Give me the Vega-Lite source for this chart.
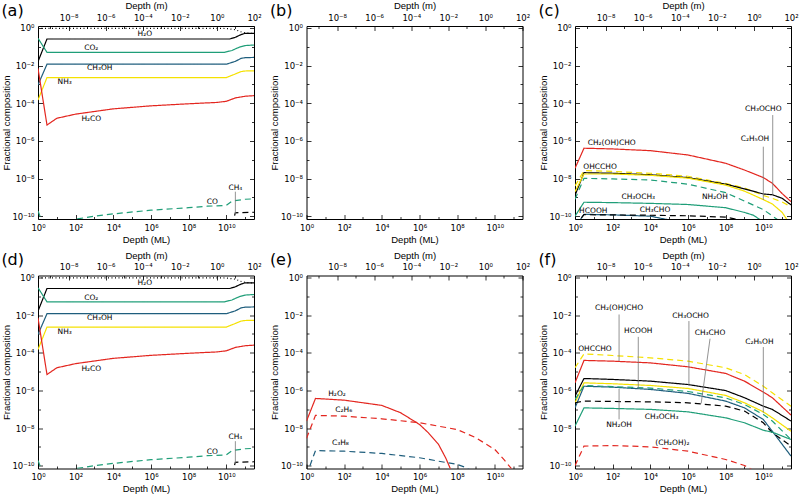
{
"$schema": "https://vega.github.io/schema/vega-lite/v6.json",
"padding": {"left": 1, "top": 0, "right": 2, "bottom": 2},
"background": "white",
"config": {
 "view": {"stroke": null},
 "axis": {"grid": false, "tickSize": {"condition": {"test": "round(log(datum.value)/LN10)%2 != 0", "value": -2.5}, "value": -4.5}, "labelPadding": 8.5, "tickColor": "#000", "domainColor": "#000", "labelColor": "#000", "titleColor": "#000", "labelFont": "DejaVu Sans", "labelFontSize": 8.5, "titleFont": "Liberation Sans", "titleFontSize": 9.5, "titleFontWeight": "normal", "labelFlush": false, "labelOverlap": false, "titlePadding": 0.5, "tickWidth": 0.8, "domainWidth": 1},
 "title": {"anchor": "start", "frame": "bounds", "fontSize": 16, "fontWeight": "normal", "font": "DejaVu Sans", "offset": -18, "color": "#000"}
},
"datasets": {
 "lines": [
  {"p":"a","s":"total","x":1,"y":0.95},{"p":"a","s":"total","x":1e10,"y":0.93},{"p":"a","s":"total","x":3e10,"y":0.8},{"p":"a","s":"total","x":7e10,"y":0.58},{"p":"a","s":"total","x":1.5e11,"y":0.52},{"p":"a","s":"total","x":2.95e11,"y":0.513},
  {"p":"a","s":"H2O","x":1,"y":0.0162},{"p":"a","s":"H2O","x":3,"y":0.257},{"p":"a","s":"H2O","x":1.5e10,"y":0.257},{"p":"a","s":"H2O","x":3e10,"y":0.316},{"p":"a","s":"H2O","x":6e10,"y":0.437},{"p":"a","s":"H2O","x":1e11,"y":0.513},{"p":"a","s":"H2O","x":2.95e11,"y":0.513},
  {"p":"a","s":"CO2","x":1,"y":0.282},{"p":"a","s":"CO2","x":3,"y":0.0501},{"p":"a","s":"CO2","x":8e9,"y":0.0501},{"p":"a","s":"CO2","x":2e10,"y":0.0631},{"p":"a","s":"CO2","x":5e10,"y":0.0955},{"p":"a","s":"CO2","x":1e11,"y":0.115},{"p":"a","s":"CO2","x":2.95e11,"y":0.123},
  {"p":"a","s":"CH3OH","x":1,"y":9.33e-4},{"p":"a","s":"CH3OH","x":3,"y":0.01175},{"p":"a","s":"CH3OH","x":1e10,"y":0.01175},{"p":"a","s":"CH3OH","x":3e10,"y":0.0166},{"p":"a","s":"CH3OH","x":6e10,"y":0.024},{"p":"a","s":"CH3OH","x":1e11,"y":0.0263},{"p":"a","s":"CH3OH","x":2.95e11,"y":0.0269},
  {"p":"a","s":"NH3","x":1,"y":1.48e-4},{"p":"a","s":"NH3","x":3,"y":2.29e-3},{"p":"a","s":"NH3","x":1e10,"y":2.29e-3},{"p":"a","s":"NH3","x":3e10,"y":3.55e-3},{"p":"a","s":"NH3","x":6e10,"y":4.79e-3},{"p":"a","s":"NH3","x":1e11,"y":5.13e-3},{"p":"a","s":"NH3","x":2.95e11,"y":5.25e-3},
  {"p":"a","s":"H2CO","x":1,"y":7.08e-3},{"p":"a","s":"H2CO","x":3,"y":6.92e-6},{"p":"a","s":"H2CO","x":10,"y":1.585e-5},{"p":"a","s":"H2CO","x":100,"y":2.63e-5},{"p":"a","s":"H2CO","x":1000,"y":3.63e-5},{"p":"a","s":"H2CO","x":1e4,"y":5.01e-5},{"p":"a","s":"H2CO","x":1e6,"y":7.24e-5},{"p":"a","s":"H2CO","x":1e8,"y":9.33e-5},{"p":"a","s":"H2CO","x":3e9,"y":1.096e-4},{"p":"a","s":"H2CO","x":1e10,"y":1.26e-4},{"p":"a","s":"H2CO","x":3e10,"y":1.905e-4},{"p":"a","s":"H2CO","x":1e11,"y":2.34e-4},{"p":"a","s":"H2CO","x":2.95e11,"y":2.51e-4},
  {"p":"a","s":"CO","x":1,"y":1.905e-10},{"p":"a","s":"CO","x":3,"y":1e-11},{"p":"a","s":"CO","x":100,"y":6.92e-11},{"p":"a","s":"CO","x":1000,"y":1e-10},{"p":"a","s":"CO","x":1e4,"y":1.32e-10},{"p":"a","s":"CO","x":1e6,"y":2.09e-10},{"p":"a","s":"CO","x":1e8,"y":2.82e-10},{"p":"a","s":"CO","x":1e9,"y":3.39e-10},{"p":"a","s":"CO","x":1e10,"y":3.72e-10},{"p":"a","s":"CO","x":2e10,"y":6.31e-10},{"p":"a","s":"CO","x":1e11,"y":7.94e-10},{"p":"a","s":"CO","x":2.95e11,"y":8.32e-10},
  {"p":"a","s":"CH4","x":1.5e10,"y":1e-11},{"p":"a","s":"CH4","x":3e10,"y":1.51e-10},{"p":"a","s":"CH4","x":2.95e11,"y":1.62e-10},

  {"p":"d","s":"total","x":1,"y":0.95},{"p":"d","s":"total","x":1e10,"y":0.93},{"p":"d","s":"total","x":3e10,"y":0.8},{"p":"d","s":"total","x":7e10,"y":0.58},{"p":"d","s":"total","x":1.5e11,"y":0.52},{"p":"d","s":"total","x":2.95e11,"y":0.513},
  {"p":"d","s":"H2O","x":1,"y":0.0162},{"p":"d","s":"H2O","x":3,"y":0.257},{"p":"d","s":"H2O","x":1.5e10,"y":0.257},{"p":"d","s":"H2O","x":3e10,"y":0.316},{"p":"d","s":"H2O","x":6e10,"y":0.437},{"p":"d","s":"H2O","x":1e11,"y":0.513},{"p":"d","s":"H2O","x":2.95e11,"y":0.513},
  {"p":"d","s":"CO2","x":1,"y":0.282},{"p":"d","s":"CO2","x":3,"y":0.0501},{"p":"d","s":"CO2","x":8e9,"y":0.0501},{"p":"d","s":"CO2","x":2e10,"y":0.0631},{"p":"d","s":"CO2","x":5e10,"y":0.0955},{"p":"d","s":"CO2","x":1e11,"y":0.115},{"p":"d","s":"CO2","x":2.95e11,"y":0.123},
  {"p":"d","s":"CH3OH","x":1,"y":9.33e-4},{"p":"d","s":"CH3OH","x":3,"y":0.01175},{"p":"d","s":"CH3OH","x":1e10,"y":0.01175},{"p":"d","s":"CH3OH","x":3e10,"y":0.0166},{"p":"d","s":"CH3OH","x":6e10,"y":0.024},{"p":"d","s":"CH3OH","x":1e11,"y":0.0263},{"p":"d","s":"CH3OH","x":2.95e11,"y":0.0269},
  {"p":"d","s":"NH3","x":1,"y":1.48e-4},{"p":"d","s":"NH3","x":3,"y":2.29e-3},{"p":"d","s":"NH3","x":1e10,"y":2.29e-3},{"p":"d","s":"NH3","x":3e10,"y":3.55e-3},{"p":"d","s":"NH3","x":6e10,"y":4.79e-3},{"p":"d","s":"NH3","x":1e11,"y":5.13e-3},{"p":"d","s":"NH3","x":2.95e11,"y":5.25e-3},
  {"p":"d","s":"H2CO","x":1,"y":7.08e-3},{"p":"d","s":"H2CO","x":3,"y":6.92e-6},{"p":"d","s":"H2CO","x":10,"y":1.585e-5},{"p":"d","s":"H2CO","x":100,"y":2.63e-5},{"p":"d","s":"H2CO","x":1000,"y":3.63e-5},{"p":"d","s":"H2CO","x":1e4,"y":5.01e-5},{"p":"d","s":"H2CO","x":1e6,"y":7.24e-5},{"p":"d","s":"H2CO","x":1e8,"y":9.33e-5},{"p":"d","s":"H2CO","x":3e9,"y":1.096e-4},{"p":"d","s":"H2CO","x":1e10,"y":1.26e-4},{"p":"d","s":"H2CO","x":3e10,"y":1.905e-4},{"p":"d","s":"H2CO","x":1e11,"y":2.34e-4},{"p":"d","s":"H2CO","x":2.95e11,"y":2.51e-4},
  {"p":"d","s":"CO","x":1,"y":1.905e-10},{"p":"d","s":"CO","x":3,"y":1e-11},{"p":"d","s":"CO","x":100,"y":6.92e-11},{"p":"d","s":"CO","x":1000,"y":1e-10},{"p":"d","s":"CO","x":1e4,"y":1.32e-10},{"p":"d","s":"CO","x":1e6,"y":2.09e-10},{"p":"d","s":"CO","x":1e8,"y":2.82e-10},{"p":"d","s":"CO","x":1e9,"y":3.39e-10},{"p":"d","s":"CO","x":1e10,"y":3.72e-10},{"p":"d","s":"CO","x":2e10,"y":6.31e-10},{"p":"d","s":"CO","x":1e11,"y":7.94e-10},{"p":"d","s":"CO","x":2.95e11,"y":8.32e-10},
  {"p":"d","s":"CH4","x":1.5e10,"y":1e-11},{"p":"d","s":"CH4","x":3e10,"y":1.51e-10},{"p":"d","s":"CH4","x":2.95e11,"y":1.62e-10},

  {"p":"c","s":"CH2(OH)CHO","x":1,"y":3.47e-8},{"p":"c","s":"CH2(OH)CHO","x":3,"y":4.07e-7},{"p":"c","s":"CH2(OH)CHO","x":100,"y":3.72e-7},{"p":"c","s":"CH2(OH)CHO","x":1e4,"y":3.02e-7},{"p":"c","s":"CH2(OH)CHO","x":1e6,"y":1.78e-7},{"p":"c","s":"CH2(OH)CHO","x":1e8,"y":6.46e-8},{"p":"c","s":"CH2(OH)CHO","x":1e9,"y":2.82e-8},{"p":"c","s":"CH2(OH)CHO","x":1e10,"y":1.12e-8},{"p":"c","s":"CH2(OH)CHO","x":3e10,"y":5.62e-9},{"p":"c","s":"CH2(OH)CHO","x":1e11,"y":1.585e-9},{"p":"c","s":"CH2(OH)CHO","x":2.95e11,"y":5.89e-10},
  {"p":"c","s":"OHCCHO","x":1,"y":3.98e-9},{"p":"c","s":"OHCCHO","x":3,"y":2.63e-8},{"p":"c","s":"OHCCHO","x":100,"y":2.4e-8},{"p":"c","s":"OHCCHO","x":1e4,"y":1.905e-8},{"p":"c","s":"OHCCHO","x":1e6,"y":1.32e-8},{"p":"c","s":"OHCCHO","x":1e8,"y":5.5e-9},{"p":"c","s":"OHCCHO","x":1e9,"y":3.16e-9},{"p":"c","s":"OHCCHO","x":1e10,"y":1.26e-9},{"p":"c","s":"OHCCHO","x":3e10,"y":8.91e-10},{"p":"c","s":"OHCCHO","x":1e11,"y":5.62e-10},{"p":"c","s":"OHCCHO","x":2.95e11,"y":3.16e-10},
  {"p":"c","s":"CH3OCHO","x":1,"y":1.26e-9},{"p":"c","s":"CH3OCHO","x":3,"y":2.04e-8},{"p":"c","s":"CH3OCHO","x":100,"y":1.905e-8},{"p":"c","s":"CH3OCHO","x":1e4,"y":1.585e-8},{"p":"c","s":"CH3OCHO","x":1e6,"y":1.12e-8},{"p":"c","s":"CH3OCHO","x":1e8,"y":5.01e-9},{"p":"c","s":"CH3OCHO","x":1e9,"y":2.82e-9},{"p":"c","s":"CH3OCHO","x":1e10,"y":1.51e-9},{"p":"c","s":"CH3OCHO","x":3e10,"y":1.38e-9},{"p":"c","s":"CH3OCHO","x":1e11,"y":8.91e-10},{"p":"c","s":"CH3OCHO","x":2.95e11,"y":3.98e-10},
  {"p":"c","s":"NH2OH","x":1,"y":2.0e-9},{"p":"c","s":"NH2OH","x":3,"y":1.74e-8},{"p":"c","s":"NH2OH","x":100,"y":1.74e-8},{"p":"c","s":"NH2OH","x":1e4,"y":1.48e-8},{"p":"c","s":"NH2OH","x":1e6,"y":1.047e-8},{"p":"c","s":"NH2OH","x":1e8,"y":4.47e-9},{"p":"c","s":"NH2OH","x":1e9,"y":2.14e-9},{"p":"c","s":"NH2OH","x":1e10,"y":7.59e-10},{"p":"c","s":"NH2OH","x":3e10,"y":4.47e-10},{"p":"c","s":"NH2OH","x":1e11,"y":1.585e-10},{"p":"c","s":"NH2OH","x":2.95e11,"y":3.16e-11},
  {"p":"c","s":"C2H5OH","x":1,"y":7.94e-10},{"p":"c","s":"C2H5OH","x":3,"y":1.02e-8},{"p":"c","s":"C2H5OH","x":100,"y":9.55e-9},{"p":"c","s":"C2H5OH","x":1e4,"y":8.32e-9},{"p":"c","s":"C2H5OH","x":1e6,"y":5.01e-9},{"p":"c","s":"C2H5OH","x":1e8,"y":1.78e-9},{"p":"c","s":"C2H5OH","x":1e9,"y":6.31e-10},{"p":"c","s":"C2H5OH","x":1e10,"y":2.24e-10},{"p":"c","s":"C2H5OH","x":6e10,"y":6.31e-11},
  {"p":"c","s":"CH3OCH3","x":1,"y":1e-10},{"p":"c","s":"CH3OCH3","x":3,"y":5.5e-10},{"p":"c","s":"CH3OCH3","x":100,"y":5.25e-10},{"p":"c","s":"CH3OCH3","x":1e4,"y":4.79e-10},{"p":"c","s":"CH3OCH3","x":1e6,"y":4.17e-10},{"p":"c","s":"CH3OCH3","x":1e8,"y":2.82e-10},{"p":"c","s":"CH3OCH3","x":1e9,"y":1.585e-10},{"p":"c","s":"CH3OCH3","x":3e9,"y":1.12e-10},{"p":"c","s":"CH3OCH3","x":1e10,"y":5.01e-11},
  {"p":"c","s":"HCOOH","x":1,"y":2.51e-11},{"p":"c","s":"HCOOH","x":3,"y":1.26e-10},{"p":"c","s":"HCOOH","x":100,"y":1.175e-10},{"p":"c","s":"HCOOH","x":1e4,"y":1e-10},{"p":"c","s":"HCOOH","x":1e5,"y":6.31e-11},
  {"p":"c","s":"CH3CHO","x":1,"y":3.16e-11},{"p":"c","s":"CH3CHO","x":3,"y":1.2e-10},{"p":"c","s":"CH3CHO","x":1e4,"y":1.12e-10},{"p":"c","s":"CH3CHO","x":1e6,"y":1.047e-10},{"p":"c","s":"CH3CHO","x":1e8,"y":8.91e-11},{"p":"c","s":"CH3CHO","x":1e9,"y":5.62e-11},

  {"p":"e","s":"H2O2","x":1,"y":2.34e-8},{"p":"e","s":"H2O2","x":3,"y":3.72e-7},{"p":"e","s":"H2O2","x":100,"y":3.02e-7},{"p":"e","s":"H2O2","x":1e4,"y":1.585e-7},{"p":"e","s":"H2O2","x":1e5,"y":6.46e-8},{"p":"e","s":"H2O2","x":1e6,"y":1.55e-8},{"p":"e","s":"H2O2","x":3e6,"y":5.5e-9},{"p":"e","s":"H2O2","x":1e7,"y":1.41e-9},{"p":"e","s":"H2O2","x":2.5e7,"y":2.51e-10},{"p":"e","s":"H2O2","x":5e7,"y":5.01e-11},
  {"p":"e","s":"C2H6","x":1,"y":2.82e-9},{"p":"e","s":"C2H6","x":3,"y":4.68e-8},{"p":"e","s":"C2H6","x":100,"y":4.27e-8},{"p":"e","s":"C2H6","x":1e4,"y":3.09e-8},{"p":"e","s":"C2H6","x":1e6,"y":1.905e-8},{"p":"e","s":"C2H6","x":1e8,"y":8.32e-9},{"p":"e","s":"C2H6","x":1e9,"y":3.02e-9},{"p":"e","s":"C2H6","x":1e10,"y":7.24e-10},{"p":"e","s":"C2H6","x":3e10,"y":2.14e-10},{"p":"e","s":"C2H6","x":1e11,"y":5.01e-11},
  {"p":"e","s":"C3H8","x":1,"y":3.16e-11},{"p":"e","s":"C3H8","x":3,"y":6.31e-10},{"p":"e","s":"C3H8","x":100,"y":5.89e-10},{"p":"e","s":"C3H8","x":1e4,"y":4.47e-10},{"p":"e","s":"C3H8","x":1e6,"y":2.63e-10},{"p":"e","s":"C3H8","x":1e7,"y":1.74e-10},{"p":"e","s":"C3H8","x":1e8,"y":1.175e-10},{"p":"e","s":"C3H8","x":3e8,"y":7.94e-11},{"p":"e","s":"C3H8","x":1e9,"y":3.98e-11},

  {"p":"f","s":"OHCCHO","x":1,"y":1.585e-5},{"p":"f","s":"OHCCHO","x":3,"y":8.71e-5},{"p":"f","s":"OHCCHO","x":100,"y":7.08e-5},{"p":"f","s":"OHCCHO","x":1e4,"y":5.37e-5},{"p":"f","s":"OHCCHO","x":1e6,"y":3.55e-5},{"p":"f","s":"OHCCHO","x":1e8,"y":1.585e-5},{"p":"f","s":"OHCCHO","x":1e9,"y":6.92e-6},{"p":"f","s":"OHCCHO","x":1e10,"y":1.66e-6},{"p":"f","s":"OHCCHO","x":3e10,"y":7.41e-7},{"p":"f","s":"OHCCHO","x":2.95e11,"y":1.445e-7},
  {"p":"f","s":"CH2(OH)CHO","x":1,"y":2.51e-6},{"p":"f","s":"CH2(OH)CHO","x":3,"y":3.89e-5},{"p":"f","s":"CH2(OH)CHO","x":100,"y":3.55e-5},{"p":"f","s":"CH2(OH)CHO","x":1e4,"y":2.88e-5},{"p":"f","s":"CH2(OH)CHO","x":1e6,"y":1.78e-5},{"p":"f","s":"CH2(OH)CHO","x":1e8,"y":7.94e-6},{"p":"f","s":"CH2(OH)CHO","x":1e9,"y":3.09e-6},{"p":"f","s":"CH2(OH)CHO","x":1e10,"y":8.13e-7},{"p":"f","s":"CH2(OH)CHO","x":3e10,"y":4.07e-7},{"p":"f","s":"CH2(OH)CHO","x":2.95e11,"y":4.9e-8},
  {"p":"f","s":"CH3OCHO","x":1,"y":4.9e-7},{"p":"f","s":"CH3OCHO","x":3,"y":4.27e-6},{"p":"f","s":"CH3OCHO","x":100,"y":3.8e-6},{"p":"f","s":"CH3OCHO","x":1e4,"y":3.09e-6},{"p":"f","s":"CH3OCHO","x":1e6,"y":2.04e-6},{"p":"f","s":"CH3OCHO","x":1e8,"y":9.77e-7},{"p":"f","s":"CH3OCHO","x":1e9,"y":4.07e-7},{"p":"f","s":"CH3OCHO","x":1e10,"y":1.445e-7},{"p":"f","s":"CH3OCHO","x":3e10,"y":9.77e-8},{"p":"f","s":"CH3OCHO","x":2.95e11,"y":2.34e-8},
  {"p":"f","s":"NH2OH","x":1,"y":2.19e-7},{"p":"f","s":"NH2OH","x":3,"y":2.51e-6},{"p":"f","s":"NH2OH","x":100,"y":2.24e-6},{"p":"f","s":"NH2OH","x":1e4,"y":1.82e-6},{"p":"f","s":"NH2OH","x":1e6,"y":1.26e-6},{"p":"f","s":"NH2OH","x":1e8,"y":5.37e-7},{"p":"f","s":"NH2OH","x":1e9,"y":2.19e-7},{"p":"f","s":"NH2OH","x":1e10,"y":7.24e-8},{"p":"f","s":"NH2OH","x":3e10,"y":3.47e-8},{"p":"f","s":"NH2OH","x":2.95e11,"y":6.76e-9},
  {"p":"f","s":"HCOOH","x":1,"y":1.175e-7},{"p":"f","s":"HCOOH","x":3,"y":1.66e-6},{"p":"f","s":"HCOOH","x":100,"y":1.48e-6},{"p":"f","s":"HCOOH","x":1e4,"y":1.12e-6},{"p":"f","s":"HCOOH","x":1e6,"y":6.92e-7},{"p":"f","s":"HCOOH","x":1e8,"y":2.69e-7},{"p":"f","s":"HCOOH","x":1e9,"y":1.175e-7},{"p":"f","s":"HCOOH","x":1e10,"y":2.82e-8},{"p":"f","s":"HCOOH","x":3e10,"y":6.76e-9},{"p":"f","s":"HCOOH","x":2.95e11,"y":3.24e-10},
  {"p":"f","s":"C2H5OH","x":1,"y":3.31e-7},{"p":"f","s":"C2H5OH","x":3,"y":1.82e-6},{"p":"f","s":"C2H5OH","x":100,"y":1.585e-6},{"p":"f","s":"C2H5OH","x":1e4,"y":1.32e-6},{"p":"f","s":"C2H5OH","x":1e6,"y":8.71e-7},{"p":"f","s":"C2H5OH","x":1e8,"y":3.98e-7},{"p":"f","s":"C2H5OH","x":1e9,"y":1.78e-7},{"p":"f","s":"C2H5OH","x":1e10,"y":5.25e-8},{"p":"f","s":"C2H5OH","x":3e10,"y":2.34e-8},{"p":"f","s":"C2H5OH","x":2.95e11,"y":2.45e-9},
  {"p":"f","s":"CH3CHO","x":1,"y":2.19e-7},{"p":"f","s":"CH3CHO","x":3,"y":2.69e-7},{"p":"f","s":"CH3CHO","x":100,"y":2.57e-7},{"p":"f","s":"CH3CHO","x":1e4,"y":2.45e-7},{"p":"f","s":"CH3CHO","x":1e6,"y":2.19e-7},{"p":"f","s":"CH3CHO","x":1e8,"y":1.445e-7},{"p":"f","s":"CH3CHO","x":1e9,"y":7.94e-8},{"p":"f","s":"CH3CHO","x":1e10,"y":1.905e-8},{"p":"f","s":"CH3CHO","x":3e10,"y":5.62e-9},{"p":"f","s":"CH3CHO","x":2.95e11,"y":1.096e-9},
  {"p":"f","s":"CH3OCH3","x":1,"y":1.26e-8},{"p":"f","s":"CH3OCH3","x":3,"y":1.175e-7},{"p":"f","s":"CH3OCH3","x":100,"y":1.096e-7},{"p":"f","s":"CH3OCH3","x":1e4,"y":9.77e-8},{"p":"f","s":"CH3OCH3","x":1e6,"y":7.24e-8},{"p":"f","s":"CH3OCH3","x":1e8,"y":3.47e-8},{"p":"f","s":"CH3OCH3","x":1e9,"y":1.905e-8},{"p":"f","s":"CH3OCH3","x":1e10,"y":7.59e-9},{"p":"f","s":"CH3OCH3","x":3e10,"y":6.03e-9},{"p":"f","s":"CH3OCH3","x":2.95e11,"y":2.45e-9},
  {"p":"f","s":"(CH2OH)2","x":1,"y":1e-10},{"p":"f","s":"(CH2OH)2","x":3,"y":1.096e-9},{"p":"f","s":"(CH2OH)2","x":100,"y":1.175e-9},{"p":"f","s":"(CH2OH)2","x":1e4,"y":1e-9},{"p":"f","s":"(CH2OH)2","x":1e6,"y":5.89e-10},{"p":"f","s":"(CH2OH)2","x":1e8,"y":2.14e-10},{"p":"f","s":"(CH2OH)2","x":1e9,"y":1.02e-10},{"p":"f","s":"(CH2OH)2","x":3e9,"y":5.62e-11}
 ],
 "labels": [
  {"p":"a","t":"H₂O","x":4.68e5,"y":0.501},{"p":"a","t":"CO₂","x":676,"y":0.0832},{"p":"a","t":"CH₃OH","x":1905,"y":7.08e-3},{"p":"a","t":"NH₃","x":26.3,"y":1.29e-3},{"p":"a","t":"H₂CO","x":676,"y":1.445e-5},{"p":"a","t":"CO","x":1.82e9,"y":5.5e-10},{"p":"a","t":"CH₄","x":3.02e10,"y":3.24e-9},
  {"p":"d","t":"H₂O","x":4.68e5,"y":0.501},{"p":"d","t":"CO₂","x":676,"y":0.0832},{"p":"d","t":"CH₃OH","x":1905,"y":7.08e-3},{"p":"d","t":"NH₃","x":26.3,"y":1.29e-3},{"p":"d","t":"H₂CO","x":676,"y":1.445e-5},{"p":"d","t":"CO","x":1.82e9,"y":5.5e-10},{"p":"d","t":"CH₄","x":3.02e10,"y":3.24e-9},
  {"p":"c","t":"CH₂(OH)CHO","x":89.1,"y":7.41e-7},{"p":"c","t":"OHCCHO","x":21.4,"y":4.27e-8},{"p":"c","t":"CH₃OCH₃","x":2291,"y":1.096e-9},{"p":"c","t":"HCOOH","x":9.33,"y":2.0e-10},{"p":"c","t":"CH₃CHO","x":1.78e4,"y":2.14e-10},{"p":"c","t":"NH₂OH","x":2.69e7,"y":1.096e-9},{"p":"c","t":"C₂H₅OH","x":3.63e9,"y":1.2e-6},{"p":"c","t":"CH₃OCHO","x":1e10,"y":4.9e-5},
  {"p":"e","t":"H₂O₂","x":41.7,"y":6.76e-7},{"p":"e","t":"C₂H₆","x":95.5,"y":8.91e-8},{"p":"e","t":"C₃H₈","x":63.1,"y":1.51e-9},
  {"p":"f","t":"OHCCHO","x":11.5,"y":1.62e-4},{"p":"f","t":"CH₂(OH)CHO","x":219,"y":0.024},{"p":"f","t":"HCOOH","x":2291,"y":1.38e-3},{"p":"f","t":"CH₃OCHO","x":1.38e6,"y":8.71e-3},{"p":"f","t":"CH₃CHO","x":1.48e7,"y":1.047e-3},{"p":"f","t":"C₂H₅OH","x":6.17e9,"y":3.8e-4},{"p":"f","t":"NH₂OH","x":219,"y":1.38e-8},{"p":"f","t":"CH₃OCH₃","x":3.98e4,"y":3.98e-8},{"p":"f","t":"(CH₂OH)₂","x":1.48e5,"y":1.51e-9}
 ],
 "leaders": [
  {"p":"a","x":3.02e10,"x2":3.02e10,"y":2.0e-9,"y2":1.26e-10},
  {"p":"d","x":3.02e10,"x2":3.02e10,"y":2.0e-9,"y2":1.26e-10},
  {"p":"c","x":1e10,"x2":1e10,"y":4.9e-7,"y2":7.24e-10},
  {"p":"c","x":3.16e10,"x2":3.16e10,"y":2.34e-5,"y2":1.35e-9},
  {"p":"f","x":219,"x2":219,"y":1.07e-2,"y2":3.55e-5},
  {"p":"f","x":2291,"x2":2291,"y":6.92e-4,"y2":1.2e-6},
  {"p":"f","x":1.12e6,"x2":1.12e6,"y":4.79e-3,"y2":1.82e-6},
  {"p":"f","x":1.48e7,"x2":5.01e6,"y":5.5e-4,"y2":2.0e-7},
  {"p":"f","x":1e10,"x2":1e10,"y":2.0e-4,"y2":6.46e-8},
  {"p":"f","x":219,"x2":219,"y":1.2e-6,"y2":2.88e-8}
 ]
},
"columns": 3,
"spacing": {"row": 56.5, "column": 52.5},
"bounds": "flush",
"resolve": {"scale": {"color": "independent", "strokeDash": "independent"}},
"concat": [
  {"width":216,"height":193,"title":"(a)","resolve":{"scale":{"x":"independent","y":"independent"}},
   "layer":[
    {"data":{"name":"lines"},"transform":[{"filter":"datum.p=='a'"}],"mark":{"type":"line","clip":true,"strokeWidth":1.2},
     "encoding":{"x":{"field":"x","type":"quantitative","scale":{"type":"log","domain":[1,2.95e11],"nice":false},"axis":{"orient":"bottom","title":"Depth (ML)","values":[1,10,100,1000,10000,100000,1000000,10000000,100000000,1000000000,10000000000,100000000000],"labelExpr":"['10⁰','','10²','','10⁴','','10⁶','','10⁸','','10¹⁰',''][round(log(datum.value)/LN10)]"}},
      "y":{"field":"y","type":"quantitative","scale":{"type":"log","domain":[7.08e-11,1.259],"nice":false},"axis":{"orient":"left","title":"Fractional composition","values":[1e-10,1e-9,1e-8,1e-7,1e-6,1e-5,1e-4,1e-3,0.01,0.1,1],"labelExpr":"['10⁰','','10⁻²','','10⁻⁴','','10⁻⁶','','10⁻⁸','','10⁻¹⁰'][round(-log(datum.value)/LN10)]"}},
      "color":{"field":"s","type":"nominal","legend":null,"scale":{"domain":["total","H2O","CO2","CH3OH","NH3","H2CO","CO","CH4"],"range":["#000000","#000000","#1f9e78","#1f5e7d","#f5e100","#e3261f","#1f9e78","#000000"]}},
      "strokeDash":{"field":"s","type":"nominal","legend":null,"scale":{"domain":["total","H2O","CO2","CH3OH","NH3","H2CO","CO","CH4"],"range":[[1,2.5],[1,0],[1,0],[1,0],[1,0],[1,0],[6,4],[6,4]]}}}},
    {"data":{"name":"labels"},"transform":[{"filter":"datum.p=='a'"}],"mark":{"type":"text","font":"DejaVu Sans","fontSize":7.5,"fill":"#000"},
     "encoding":{"x":{"field":"x","type":"quantitative","scale":{"type":"log","domain":[1,2.95e11],"nice":false},"axis":null},"y":{"field":"y","type":"quantitative","scale":{"type":"log","domain":[7.08e-11,1.259],"nice":false},"axis":null},"text":{"field":"t"}}},
    {"data":{"name":"leaders"},"transform":[{"filter":"datum.p=='a'"}],"mark":{"type":"rule","color":"#777","strokeWidth":0.8},
     "encoding":{"x":{"field":"x","type":"quantitative","scale":{"type":"log","domain":[1,2.95e11],"nice":false},"axis":null},"x2":{"field":"x2"},"y":{"field":"y","type":"quantitative","scale":{"type":"log","domain":[7.08e-11,1.259],"nice":false},"axis":null},"y2":{"field":"y2"}}},
    {"data":{"values":[{"m":1,"v":1}]},"mark":{"type":"point","opacity":0},
     "encoding":{"x":{"field":"m","type":"quantitative","scale":{"type":"log","domain":[2.24e-10,100],"nice":false},"axis":{"orient":"top","title":"Depth (m)","values":[1e-9,1e-8,1e-7,1e-6,1e-5,1e-4,1e-3,0.01,0.1,1,10,100],"labelExpr":"['','10⁻⁸','','10⁻⁶','','10⁻⁴','','10⁻²','','10⁰','','10²'][round(log(datum.value)/LN10)+9]"}},
      "y":{"field":"v","type":"quantitative","scale":{"type":"log","domain":[7.08e-11,1.259],"nice":false},"axis":{"orient":"right","title":null,"labels":false,"values":[1e-10,1e-9,1e-8,1e-7,1e-6,1e-5,1e-4,1e-3,0.01,0.1,1]}}}}
   ]},
  {"width":216,"height":193,"title":"(b)","resolve":{"scale":{"x":"independent","y":"independent"}},
   "layer":[
    {"data":{"values":[{"x":1,"y":1}]},"mark":{"type":"point","opacity":0},
     "encoding":{"x":{"field":"x","type":"quantitative","scale":{"type":"log","domain":[1,2.95e11],"nice":false},"axis":{"orient":"bottom","title":"Depth (ML)","values":[1,10,100,1000,10000,100000,1000000,10000000,100000000,1000000000,10000000000,100000000000],"labelExpr":"['10⁰','','10²','','10⁴','','10⁶','','10⁸','','10¹⁰',''][round(log(datum.value)/LN10)]"}},
      "y":{"field":"y","type":"quantitative","scale":{"type":"log","domain":[7.08e-11,1.259],"nice":false},"axis":{"orient":"left","title":"Fractional composition","values":[1e-10,1e-9,1e-8,1e-7,1e-6,1e-5,1e-4,1e-3,0.01,0.1,1],"labelExpr":"['10⁰','','10⁻²','','10⁻⁴','','10⁻⁶','','10⁻⁸','','10⁻¹⁰'][round(-log(datum.value)/LN10)]"}}}},
    {"data":{"values":[{"m":1,"v":1}]},"mark":{"type":"point","opacity":0},
     "encoding":{"x":{"field":"m","type":"quantitative","scale":{"type":"log","domain":[2.24e-10,100],"nice":false},"axis":{"orient":"top","title":"Depth (m)","values":[1e-9,1e-8,1e-7,1e-6,1e-5,1e-4,1e-3,0.01,0.1,1,10,100],"labelExpr":"['','10⁻⁸','','10⁻⁶','','10⁻⁴','','10⁻²','','10⁰','','10²'][round(log(datum.value)/LN10)+9]"}},
      "y":{"field":"v","type":"quantitative","scale":{"type":"log","domain":[7.08e-11,1.259],"nice":false},"axis":{"orient":"right","title":null,"labels":false,"values":[1e-10,1e-9,1e-8,1e-7,1e-6,1e-5,1e-4,1e-3,0.01,0.1,1]}}}}
   ]},
  {"width":216,"height":193,"title":"(c)","resolve":{"scale":{"x":"independent","y":"independent"}},
   "layer":[
    {"data":{"name":"lines"},"transform":[{"filter":"datum.p=='c'"}],"mark":{"type":"line","clip":true,"strokeWidth":1.2},
     "encoding":{"x":{"field":"x","type":"quantitative","scale":{"type":"log","domain":[1,2.95e11],"nice":false},"axis":{"orient":"bottom","title":"Depth (ML)","values":[1,10,100,1000,10000,100000,1000000,10000000,100000000,1000000000,10000000000,100000000000],"labelExpr":"['10⁰','','10²','','10⁴','','10⁶','','10⁸','','10¹⁰',''][round(log(datum.value)/LN10)]"}},
      "y":{"field":"y","type":"quantitative","scale":{"type":"log","domain":[7.08e-11,1.259],"nice":false},"axis":{"orient":"left","title":"Fractional composition","values":[1e-10,1e-9,1e-8,1e-7,1e-6,1e-5,1e-4,1e-3,0.01,0.1,1],"labelExpr":"['10⁰','','10⁻²','','10⁻⁴','','10⁻⁶','','10⁻⁸','','10⁻¹⁰'][round(-log(datum.value)/LN10)]"}},
      "color":{"field":"s","type":"nominal","legend":null,"scale":{"domain":["CH2(OH)CHO","OHCCHO","CH3OCHO","NH2OH","HCOOH","CH3CHO","CH3OCH3","C2H5OH","(CH2OH)2"],"range":["#e3261f","#f5e100","#000000","#f5e100","#1f5e7d","#000000","#1f9e78","#1f9e78","#e3261f"]}},
      "strokeDash":{"field":"s","type":"nominal","legend":null,"scale":{"domain":["CH2(OH)CHO","OHCCHO","CH3OCHO","NH2OH","HCOOH","CH3CHO","CH3OCH3","C2H5OH","(CH2OH)2"],"range":[[1,0],[6,4],[1,0],[1,0],[1,0],[6,4],[1,0],[6,4],[6,4]]}}}},
    {"data":{"name":"labels"},"transform":[{"filter":"datum.p=='c'"}],"mark":{"type":"text","font":"DejaVu Sans","fontSize":7.5,"fill":"#000"},
     "encoding":{"x":{"field":"x","type":"quantitative","scale":{"type":"log","domain":[1,2.95e11],"nice":false},"axis":null},"y":{"field":"y","type":"quantitative","scale":{"type":"log","domain":[7.08e-11,1.259],"nice":false},"axis":null},"text":{"field":"t"}}},
    {"data":{"name":"leaders"},"transform":[{"filter":"datum.p=='c'"}],"mark":{"type":"rule","color":"#777","strokeWidth":0.8},
     "encoding":{"x":{"field":"x","type":"quantitative","scale":{"type":"log","domain":[1,2.95e11],"nice":false},"axis":null},"x2":{"field":"x2"},"y":{"field":"y","type":"quantitative","scale":{"type":"log","domain":[7.08e-11,1.259],"nice":false},"axis":null},"y2":{"field":"y2"}}},
    {"data":{"values":[{"m":1,"v":1}]},"mark":{"type":"point","opacity":0},
     "encoding":{"x":{"field":"m","type":"quantitative","scale":{"type":"log","domain":[2.24e-10,100],"nice":false},"axis":{"orient":"top","title":"Depth (m)","values":[1e-9,1e-8,1e-7,1e-6,1e-5,1e-4,1e-3,0.01,0.1,1,10,100],"labelExpr":"['','10⁻⁸','','10⁻⁶','','10⁻⁴','','10⁻²','','10⁰','','10²'][round(log(datum.value)/LN10)+9]"}},
      "y":{"field":"v","type":"quantitative","scale":{"type":"log","domain":[7.08e-11,1.259],"nice":false},"axis":{"orient":"right","title":null,"labels":false,"values":[1e-10,1e-9,1e-8,1e-7,1e-6,1e-5,1e-4,1e-3,0.01,0.1,1]}}}}
   ]},
  {"width":216,"height":193,"title":"(d)","resolve":{"scale":{"x":"independent","y":"independent"}},
   "layer":[
    {"data":{"name":"lines"},"transform":[{"filter":"datum.p=='d'"}],"mark":{"type":"line","clip":true,"strokeWidth":1.2},
     "encoding":{"x":{"field":"x","type":"quantitative","scale":{"type":"log","domain":[1,2.95e11],"nice":false},"axis":{"orient":"bottom","title":"Depth (ML)","values":[1,10,100,1000,10000,100000,1000000,10000000,100000000,1000000000,10000000000,100000000000],"labelExpr":"['10⁰','','10²','','10⁴','','10⁶','','10⁸','','10¹⁰',''][round(log(datum.value)/LN10)]"}},
      "y":{"field":"y","type":"quantitative","scale":{"type":"log","domain":[7.08e-11,1.259],"nice":false},"axis":{"orient":"left","title":"Fractional composition","values":[1e-10,1e-9,1e-8,1e-7,1e-6,1e-5,1e-4,1e-3,0.01,0.1,1],"labelExpr":"['10⁰','','10⁻²','','10⁻⁴','','10⁻⁶','','10⁻⁸','','10⁻¹⁰'][round(-log(datum.value)/LN10)]"}},
      "color":{"field":"s","type":"nominal","legend":null,"scale":{"domain":["total","H2O","CO2","CH3OH","NH3","H2CO","CO","CH4"],"range":["#000000","#000000","#1f9e78","#1f5e7d","#f5e100","#e3261f","#1f9e78","#000000"]}},
      "strokeDash":{"field":"s","type":"nominal","legend":null,"scale":{"domain":["total","H2O","CO2","CH3OH","NH3","H2CO","CO","CH4"],"range":[[1,2.5],[1,0],[1,0],[1,0],[1,0],[1,0],[6,4],[6,4]]}}}},
    {"data":{"name":"labels"},"transform":[{"filter":"datum.p=='d'"}],"mark":{"type":"text","font":"DejaVu Sans","fontSize":7.5,"fill":"#000"},
     "encoding":{"x":{"field":"x","type":"quantitative","scale":{"type":"log","domain":[1,2.95e11],"nice":false},"axis":null},"y":{"field":"y","type":"quantitative","scale":{"type":"log","domain":[7.08e-11,1.259],"nice":false},"axis":null},"text":{"field":"t"}}},
    {"data":{"name":"leaders"},"transform":[{"filter":"datum.p=='d'"}],"mark":{"type":"rule","color":"#777","strokeWidth":0.8},
     "encoding":{"x":{"field":"x","type":"quantitative","scale":{"type":"log","domain":[1,2.95e11],"nice":false},"axis":null},"x2":{"field":"x2"},"y":{"field":"y","type":"quantitative","scale":{"type":"log","domain":[7.08e-11,1.259],"nice":false},"axis":null},"y2":{"field":"y2"}}},
    {"data":{"values":[{"m":1,"v":1}]},"mark":{"type":"point","opacity":0},
     "encoding":{"x":{"field":"m","type":"quantitative","scale":{"type":"log","domain":[2.24e-10,100],"nice":false},"axis":{"orient":"top","title":"Depth (m)","values":[1e-9,1e-8,1e-7,1e-6,1e-5,1e-4,1e-3,0.01,0.1,1,10,100],"labelExpr":"['','10⁻⁸','','10⁻⁶','','10⁻⁴','','10⁻²','','10⁰','','10²'][round(log(datum.value)/LN10)+9]"}},
      "y":{"field":"v","type":"quantitative","scale":{"type":"log","domain":[7.08e-11,1.259],"nice":false},"axis":{"orient":"right","title":null,"labels":false,"values":[1e-10,1e-9,1e-8,1e-7,1e-6,1e-5,1e-4,1e-3,0.01,0.1,1]}}}}
   ]},
  {"width":216,"height":193,"title":"(e)","resolve":{"scale":{"x":"independent","y":"independent"}},
   "layer":[
    {"data":{"name":"lines"},"transform":[{"filter":"datum.p=='e'"}],"mark":{"type":"line","clip":true,"strokeWidth":1.2},
     "encoding":{"x":{"field":"x","type":"quantitative","scale":{"type":"log","domain":[1,2.95e11],"nice":false},"axis":{"orient":"bottom","title":"Depth (ML)","values":[1,10,100,1000,10000,100000,1000000,10000000,100000000,1000000000,10000000000,100000000000],"labelExpr":"['10⁰','','10²','','10⁴','','10⁶','','10⁸','','10¹⁰',''][round(log(datum.value)/LN10)]"}},
      "y":{"field":"y","type":"quantitative","scale":{"type":"log","domain":[7.08e-11,1.259],"nice":false},"axis":{"orient":"left","title":"Fractional composition","values":[1e-10,1e-9,1e-8,1e-7,1e-6,1e-5,1e-4,1e-3,0.01,0.1,1],"labelExpr":"['10⁰','','10⁻²','','10⁻⁴','','10⁻⁶','','10⁻⁸','','10⁻¹⁰'][round(-log(datum.value)/LN10)]"}},
      "color":{"field":"s","type":"nominal","legend":null,"scale":{"domain":["H2O2","C2H6","C3H8"],"range":["#e3261f","#e3261f","#1f5e7d"]}},
      "strokeDash":{"field":"s","type":"nominal","legend":null,"scale":{"domain":["H2O2","C2H6","C3H8"],"range":[[1,0],[6,4],[6,4]]}}}},
    {"data":{"name":"labels"},"transform":[{"filter":"datum.p=='e'"}],"mark":{"type":"text","font":"DejaVu Sans","fontSize":7.5,"fill":"#000"},
     "encoding":{"x":{"field":"x","type":"quantitative","scale":{"type":"log","domain":[1,2.95e11],"nice":false},"axis":null},"y":{"field":"y","type":"quantitative","scale":{"type":"log","domain":[7.08e-11,1.259],"nice":false},"axis":null},"text":{"field":"t"}}},
    {"data":{"values":[{"m":1,"v":1}]},"mark":{"type":"point","opacity":0},
     "encoding":{"x":{"field":"m","type":"quantitative","scale":{"type":"log","domain":[2.24e-10,100],"nice":false},"axis":{"orient":"top","title":"Depth (m)","values":[1e-9,1e-8,1e-7,1e-6,1e-5,1e-4,1e-3,0.01,0.1,1,10,100],"labelExpr":"['','10⁻⁸','','10⁻⁶','','10⁻⁴','','10⁻²','','10⁰','','10²'][round(log(datum.value)/LN10)+9]"}},
      "y":{"field":"v","type":"quantitative","scale":{"type":"log","domain":[7.08e-11,1.259],"nice":false},"axis":{"orient":"right","title":null,"labels":false,"values":[1e-10,1e-9,1e-8,1e-7,1e-6,1e-5,1e-4,1e-3,0.01,0.1,1]}}}}
   ]},
  {"width":216,"height":193,"title":"(f)","resolve":{"scale":{"x":"independent","y":"independent"}},
   "layer":[
    {"data":{"name":"lines"},"transform":[{"filter":"datum.p=='f'"}],"mark":{"type":"line","clip":true,"strokeWidth":1.2},
     "encoding":{"x":{"field":"x","type":"quantitative","scale":{"type":"log","domain":[1,2.95e11],"nice":false},"axis":{"orient":"bottom","title":"Depth (ML)","values":[1,10,100,1000,10000,100000,1000000,10000000,100000000,1000000000,10000000000,100000000000],"labelExpr":"['10⁰','','10²','','10⁴','','10⁶','','10⁸','','10¹⁰',''][round(log(datum.value)/LN10)]"}},
      "y":{"field":"y","type":"quantitative","scale":{"type":"log","domain":[7.08e-11,1.259],"nice":false},"axis":{"orient":"left","title":"Fractional composition","values":[1e-10,1e-9,1e-8,1e-7,1e-6,1e-5,1e-4,1e-3,0.01,0.1,1],"labelExpr":"['10⁰','','10⁻²','','10⁻⁴','','10⁻⁶','','10⁻⁸','','10⁻¹⁰'][round(-log(datum.value)/LN10)]"}},
      "color":{"field":"s","type":"nominal","legend":null,"scale":{"domain":["CH2(OH)CHO","OHCCHO","CH3OCHO","NH2OH","HCOOH","CH3CHO","CH3OCH3","C2H5OH","(CH2OH)2"],"range":["#e3261f","#f5e100","#000000","#f5e100","#1f5e7d","#000000","#1f9e78","#1f9e78","#e3261f"]}},
      "strokeDash":{"field":"s","type":"nominal","legend":null,"scale":{"domain":["CH2(OH)CHO","OHCCHO","CH3OCHO","NH2OH","HCOOH","CH3CHO","CH3OCH3","C2H5OH","(CH2OH)2"],"range":[[1,0],[6,4],[1,0],[1,0],[1,0],[6,4],[1,0],[6,4],[6,4]]}}}},
    {"data":{"name":"labels"},"transform":[{"filter":"datum.p=='f'"}],"mark":{"type":"text","font":"DejaVu Sans","fontSize":7.5,"fill":"#000"},
     "encoding":{"x":{"field":"x","type":"quantitative","scale":{"type":"log","domain":[1,2.95e11],"nice":false},"axis":null},"y":{"field":"y","type":"quantitative","scale":{"type":"log","domain":[7.08e-11,1.259],"nice":false},"axis":null},"text":{"field":"t"}}},
    {"data":{"name":"leaders"},"transform":[{"filter":"datum.p=='f'"}],"mark":{"type":"rule","color":"#777","strokeWidth":0.8},
     "encoding":{"x":{"field":"x","type":"quantitative","scale":{"type":"log","domain":[1,2.95e11],"nice":false},"axis":null},"x2":{"field":"x2"},"y":{"field":"y","type":"quantitative","scale":{"type":"log","domain":[7.08e-11,1.259],"nice":false},"axis":null},"y2":{"field":"y2"}}},
    {"data":{"values":[{"m":1,"v":1}]},"mark":{"type":"point","opacity":0},
     "encoding":{"x":{"field":"m","type":"quantitative","scale":{"type":"log","domain":[2.24e-10,100],"nice":false},"axis":{"orient":"top","title":"Depth (m)","values":[1e-9,1e-8,1e-7,1e-6,1e-5,1e-4,1e-3,0.01,0.1,1,10,100],"labelExpr":"['','10⁻⁸','','10⁻⁶','','10⁻⁴','','10⁻²','','10⁰','','10²'][round(log(datum.value)/LN10)+9]"}},
      "y":{"field":"v","type":"quantitative","scale":{"type":"log","domain":[7.08e-11,1.259],"nice":false},"axis":{"orient":"right","title":null,"labels":false,"values":[1e-10,1e-9,1e-8,1e-7,1e-6,1e-5,1e-4,1e-3,0.01,0.1,1]}}}}
   ]}
]
}
